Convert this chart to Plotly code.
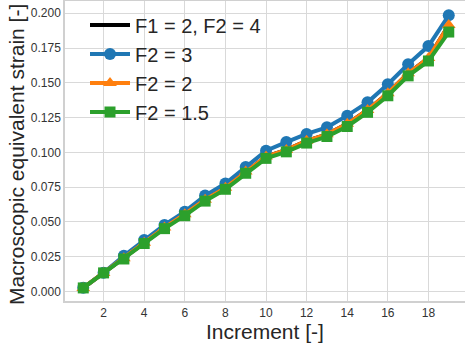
import plotly.graph_objects as go

increments = list(range(1, 20))
f2_3 = [0.0027, 0.0135, 0.0257, 0.0370, 0.0479, 0.0574, 0.0690, 0.0776, 0.0895, 0.1012,
        0.1074, 0.1133, 0.1180, 0.1264, 0.1360, 0.1490, 0.1633, 0.1764, 0.1985]
f2_2 = [0.0026, 0.0134, 0.0240, 0.0350, 0.0460, 0.0556, 0.0660, 0.0745, 0.0862, 0.0970,
        0.1018, 0.1083, 0.1130, 0.1205, 0.1305, 0.1425, 0.1568, 0.1678, 0.1915]
f2_15 = [0.0026, 0.0134, 0.0234, 0.0345, 0.0452, 0.0545, 0.0650, 0.0735, 0.0850, 0.0957,
         0.1004, 0.1067, 0.1114, 0.1186, 0.1288, 0.1407, 0.1550, 0.1657, 0.1865]
f1_2_f2_4 = f2_2

names = ["F1 = 2, F2 = 4", "F2 = 3", "F2 = 2", "F2 = 1.5"]
y_ticks = [0.0, 0.025, 0.05, 0.075, 0.1, 0.125, 0.15, 0.175, 0.2]
x_ticks = [2, 4, 6, 8, 10, 12, 14, 16, 18]
x_title = "Increment [-]"
y_title = "Macroscopic equivalent strain [-]"

FONT = "Liberation Sans, Arial, sans-serif"

fig = go.Figure()
fig.add_trace(go.Scatter(x=increments, y=f1_2_f2_4, name=names[0], mode="lines",
                         line=dict(color="black", width=4)))
fig.add_trace(go.Scatter(x=increments, y=f2_3, name=names[1], mode="lines+markers",
                         line=dict(color="#1f77b4", width=4),
                         marker=dict(symbol="circle", size=12, color="#1f77b4")))
fig.add_trace(go.Scatter(x=increments, y=f2_2, name=names[2], mode="lines+markers",
                         line=dict(color="#ff7f0e", width=4),
                         marker=dict(symbol="triangle-up", size=12, color="#ff7f0e")))
fig.add_trace(go.Scatter(x=increments, y=f2_15, name=names[3], mode="lines+markers",
                         line=dict(color="#2ca02c", width=4),
                         marker=dict(symbol="square", size=11, color="#2ca02c")))

axis_common = dict(showgrid=True, gridcolor="#d9d9d9", gridwidth=1,
                   showline=True, linecolor="#d0d0d0", linewidth=1.5, mirror=True,
                   zeroline=False, ticks="", automargin=False,
                   tickfont=dict(family=FONT, size=12, color="#333333"))

fig.update_xaxes(range=[0.1, 19.8], tickvals=x_ticks, **axis_common)
fig.update_yaxes(range=[-0.0068, 0.2088], tickvals=y_ticks, tickformat=".3f", **axis_common)

title_font = dict(family=FONT, size=21, color="#262626")
fig.add_annotation(text=x_title, xref="paper", yref="paper", x=0.5, y=-0.103,
                   xanchor="center", yanchor="middle", showarrow=False, font=title_font,
                   borderpad=0)
fig.add_annotation(text=y_title, xref="paper", yref="paper", x=-0.12, y=0.487,
                   xanchor="center", yanchor="middle", showarrow=False, textangle=-90,
                   font=title_font, borderpad=0)

fig.update_layout(
    width=465, height=346,
    margin=dict(l=65, r=0, t=1, b=45),
    paper_bgcolor="white", plot_bgcolor="white",
    font=dict(family=FONT),
    legend=dict(x=0.05, y=0.985, xanchor="left", yanchor="top",
                bgcolor="rgba(255,255,255,0)", font=dict(family=FONT, size=20, color="#262626"),
                tracegroupgap=0, itemwidth=40),
    showlegend=True,
)

fig.write_html("out.html", config={"displayModeBar": False},
               post_script="document.body.style.margin='0';")
